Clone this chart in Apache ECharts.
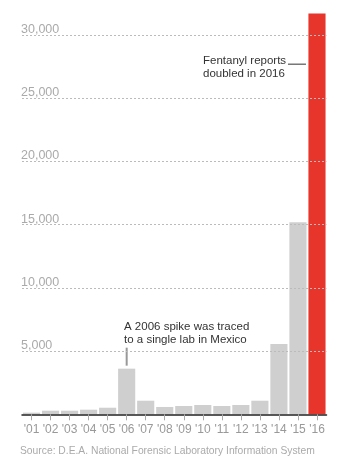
<!DOCTYPE html>
<html>
<head>
<meta charset="utf-8">
<script src="https://cdn.jsdelivr.net/npm/echarts@6/dist/echarts.min.js"></script>
<style>
  html, body { margin: 0; padding: 0; background: #fff; }
  #chart { width: 350px; height: 476px; }
</style>
</head>
<body>
<div id="chart"></div>
<script>
// Fentanyl reports by year (NFLIS)
const years = ["'01", "'02", "'03", "'04", "'05", "'06", "'07", "'08", "'09", "'10", "'11", "'12", "'13", "'14", "'15", "'16"];
const reports = [130, 285, 285, 365, 520, 3610, 1075, 580, 655, 735, 655, 735, 1075, 5560, 15200, 31700];
const highlightYear = "'16";
const yTicks = [5000, 10000, 15000, 20000, 25000, 30000];
const sourceNote = 'Source: D.E.A. National Forensic Laboratory Information System';
const noteSpike = ['A 2006 spike was traced', 'to a single lab in Mexico'];
const noteDoubled = ['Fentanyl reports', 'doubled in 2016'];

const FONT = '"Liberation Sans", Arial, Helvetica, sans-serif';
const yMax = Math.max.apply(null, reports);
const chart = echarts.init(document.getElementById('chart'), null, { renderer: 'canvas' });

chart.setOption({
  animation: false,
  backgroundColor: '#fff',
  grid: { left: 22, right: 23.5, top: 13.6, bottom: 61.7, containLabel: false },
  xAxis: {
    type: 'category',
    data: years,
    axisLine: { show: true, lineStyle: { color: '#222', width: 1.5 } },
    axisTick: { show: true, alignWithLabel: true, length: 6, lineStyle: { color: '#aaa' } },
    axisLabel: { color: '#999', fontFamily: FONT, fontSize: 12, margin: 9, interval: 0 },
    splitLine: { show: false },
    z: 5
  },
  yAxis: {
    type: 'value',
    min: 0,
    max: yMax,
    interval: 5000,
    axisLine: { show: false },
    axisTick: { show: false },
    axisLabel: {
      inside: true,
      margin: -1,
      verticalAlign: 'bottom',
      lineHeight: 11,
      color: '#aaa',
      fontFamily: FONT,
      fontSize: 12.5,
      formatter: v => yTicks.indexOf(v) >= 0 ? v.toLocaleString('en-US') : ''
    },
    splitLine: { show: false }
  },
  series: [
    {
      // dotted gridlines, kept beneath the bars
      type: 'line',
      data: [],
      z: 1,
      silent: true,
      markLine: {
        silent: true,
        symbol: 'none',
        label: { show: false },
        lineStyle: { color: '#bbb', type: [2, 2], width: 1 },
        data: yTicks.map(v => ({ yAxis: v }))
      }
    },
    {
      type: 'bar',
      z: 2,
      barCategoryGap: '10%',
      data: reports.map((v, i) => ({
        value: v,
        itemStyle: { color: years[i] === highlightYear ? '#e8352b' : '#cfcfcf' }
      })),
      silent: true
    }
  ]
});

// Annotations anchored to the bars through the chart's coordinate system
function px(cat, val) {
  return chart.convertToPixel({ xAxisIndex: 0, yAxisIndex: 0 }, [cat, val]);
}
const spikeIdx = years.indexOf("'06");
const spikeTop = px(years[spikeIdx], reports[spikeIdx]);
const lastIdx = years.length - 1;
const lastLeft = px(years[lastIdx], 0)[0] - 9;
const doubledY = px(years[lastIdx], 27700)[1];

chart.setOption({
  graphic: [
    {
      type: 'line',
      shape: { x1: spikeTop[0], y1: spikeTop[1] - 3, x2: spikeTop[0], y2: spikeTop[1] - 21 },
      style: { stroke: '#999', lineWidth: 2 }
    },
    {
      type: 'text',
      left: 124, top: 320,
      style: { text: noteSpike.join('\n'), fill: '#333', font: '11.5px ' + FONT, lineHeight: 13.5 }
    },
    {
      type: 'line',
      shape: { x1: lastLeft - 20, y1: doubledY, x2: lastLeft - 2, y2: doubledY },
      style: { stroke: '#333', lineWidth: 1 }
    },
    {
      type: 'text',
      left: 203, top: 54,
      style: { text: noteDoubled.join('\n'), fill: '#333', font: '11.5px ' + FONT, lineHeight: 13.5 }
    },
    {
      type: 'text',
      left: 20, top: 446,
      style: { text: sourceNote, fill: '#aaa', font: '10.3px ' + FONT }
    }
  ]
});
</script>
</body>
</html>
